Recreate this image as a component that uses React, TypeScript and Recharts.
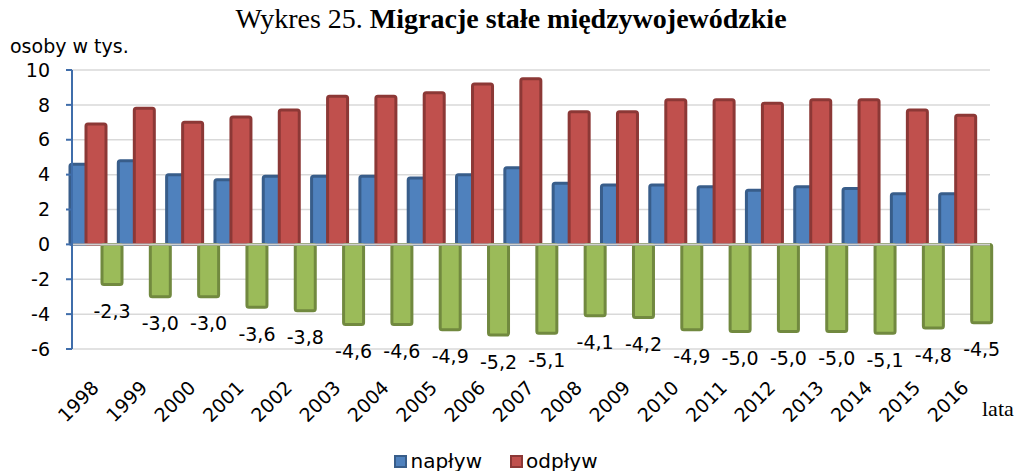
import React from "react";
import { BarChart, Bar, XAxis, YAxis, CartesianGrid, ReferenceLine, LabelList, Legend } from "recharts";

const years = ["1998", "1999", "2000", "2001", "2002", "2003", "2004", "2005", "2006", "2007", "2008", "2009", "2010", "2011", "2012", "2013", "2014", "2015", "2016"];
const naplyw = [4.6, 4.8, 4.0, 3.7, 3.9, 3.9, 3.9, 3.8, 4.0, 4.4, 3.5, 3.4, 3.4, 3.3, 3.1, 3.3, 3.2, 2.9, 2.9];
const odplyw = [6.9, 7.8, 7.0, 7.3, 7.7, 8.5, 8.5, 8.7, 9.2, 9.5, 7.6, 7.6, 8.3, 8.3, 8.1, 8.3, 8.3, 7.7, 7.4];
const saldo = [-2.3, -3.0, -3.0, -3.6, -3.8, -4.6, -4.6, -4.9, -5.2, -5.1, -4.1, -4.2, -4.9, -5.0, -5.0, -5.0, -5.1, -4.8, -4.5];
const yTicks = [-6, -4, -2, 0, 2, 4, 6, 8, 10];

const data = years.map((rok, i) => ({ rok, naplyw: naplyw[i], odplyw: odplyw[i], saldo: saldo[i] }));

const FONT = "'DejaVu Sans', sans-serif";
const SERIF = "'Liberation Serif', 'Times New Roman', serif";

const colors: Record<string, { fill: string; stroke: string }> = {
  naplyw: { fill: "#4F81BD", stroke: "#385D8A" },
  odplyw: { fill: "#C0504D", stroke: "#8C3836" },
  saldo: { fill: "#9BBB59", stroke: "#71893F" },
};

const BAR_W = 23;

// Excel-style overlapping bars: keep recharts' centre, widen the rect
const barShape = (key: string) => (props: any) => {
  const { x, y, width, height } = props;
  if (height === 0 || height == null) return <g />;
  const cx = x + width / 2;
  const top = Math.min(y, y + height);
  const h = Math.abs(height);
  return (
    <rect
      x={cx - BAR_W / 2 + 1.5}
      y={top}
      width={BAR_W - 3}
      height={h}
      rx={2}
      fill={colors[key].fill}
      stroke={colors[key].stroke}
      strokeWidth={3}
    />
  );
};

const fmt = (v: number) => v.toFixed(1).replace(".", ",");

const SaldoLabel = (props: any) => {
  const vb = props.viewBox || props;
  const { x, y, width, height } = vb;
  const bottom = Math.max(y, y + height);
  return (
    <text x={x + width / 2} y={bottom + 28} textAnchor="middle" dominantBaseline="middle" fontSize={19} fontFamily={FONT} fill="#000">
      {fmt(Number(props.value))}
    </text>
  );
};

const YearTick = (props: any) => {
  const { x, y, payload } = props;
  const tx = x + 4;
  const ty = y + 32;
  return (
    <text x={tx} y={ty} transform={`rotate(-45, ${tx}, ${ty})`} textAnchor="end" fontSize={19} fontFamily={FONT} fill="#000">
      {payload.value}
    </text>
  );
};

const renderLegend = (props: any) => {
  const items = (props.payload || []).filter((p: any) => p.dataKey !== "saldo");
  return (
    <div style={{ display: "flex", justifyContent: "center", alignItems: "center", gap: 28, fontFamily: FONT, fontSize: 20, lineHeight: "22px" }}>
      {items.map((p: any) => (
        <div key={p.dataKey} style={{ display: "flex", alignItems: "center" }}>
          <span
            style={{
              display: "inline-block",
              width: 9,
              height: 9,
              background: colors[p.dataKey].fill,
              border: `2px solid ${colors[p.dataKey].stroke}`,
              marginRight: 3,
            }}
          />
          <span>{p.value}</span>
        </div>
      ))}
    </div>
  );
};

export default function App() {
  return (
    <div style={{ position: "absolute", left: 0, top: 0, width: 1018, height: 471, background: "#fff" }}>
      <div style={{ position: "absolute", left: 0, top: 5, width: 1022, textAlign: "center", fontFamily: SERIF, fontSize: 28, lineHeight: "28px", color: "#000" }}>
        Wykres 25. <b>Migracje stałe międzywojewódzkie</b>
      </div>
      <div style={{ position: "absolute", left: 10, top: 37, fontFamily: FONT, fontSize: 19, lineHeight: "19px", color: "#000" }}>osoby w tys.</div>
      <div style={{ position: "absolute", left: 982, top: 398, fontFamily: SERIF, fontSize: 22, lineHeight: "22px", color: "#000" }}>lata</div>
      <BarChart
        width={1018}
        height={471}
        data={data}
        margin={{ top: 70, right: 28, bottom: 62, left: 0 }}
        barCategoryGap={0}
        barGap={0}
      >
        <CartesianGrid vertical={false} stroke="#D9D9D9" strokeWidth={1.5} />
        <XAxis dataKey="rok" height={60} axisLine={false} tickLine={false} interval={0} tick={<YearTick />} />
        <YAxis
          width={72}
          domain={[-6, 10]}
          ticks={yTicks}
          interval={0}
          axisLine={{ stroke: "#3F6DAA", strokeWidth: 2 }}
          tickLine={{ stroke: "#3F6DAA", strokeWidth: 2 }}
          tickSize={6}
          tickMargin={16}
          tick={{ fontSize: 19, fontFamily: FONT, fill: "#000" }}
        />
        <Bar dataKey="naplyw" name="napływ" fill={colors.naplyw.fill} shape={barShape("naplyw")} isAnimationActive={false} />
        <Bar dataKey="odplyw" name="odpływ" fill={colors.odplyw.fill} shape={barShape("odplyw")} isAnimationActive={false} />
        <Bar dataKey="saldo" name="saldo" fill={colors.saldo.fill} shape={barShape("saldo")} legendType="none" isAnimationActive={false}>
          <LabelList dataKey="saldo" content={<SaldoLabel />} />
        </Bar>
        <ReferenceLine y={0} stroke="#D0D0D0" strokeWidth={2} />
        <Legend
          layout="horizontal"
          verticalAlign="middle"
          align="center"
          content={renderLegend}
          wrapperStyle={{ top: 450, left: 0, width: 992 }}
        />
      </BarChart>
    </div>
  );
}
